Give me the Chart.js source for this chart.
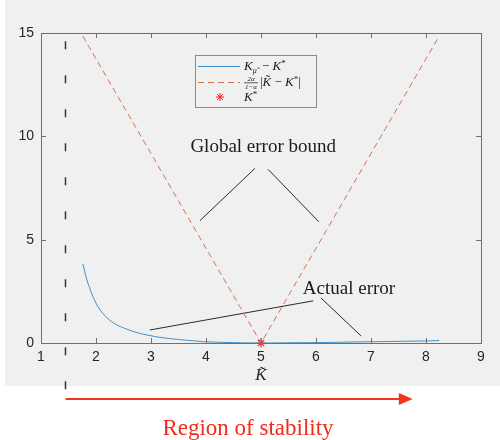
<!DOCTYPE html>
<html lang="en">
<head>
  <meta charset="UTF-8">
  <title>Error bound</title>
  <script src="https://cdn.jsdelivr.net/npm/chart.js"></script>
</head>
<style>
  body { margin: 0; background: #ffffff; }
  .chart-container { width: 500px; height: 440px; }
</style>
<body>
  <div class="chart-container">
    <canvas id="chartCanvas" width="500" height="440"></canvas>
  </div>

  <script>
    // actual error curve
    const errK = [1.76, 1.83, 1.90, 1.97, 2.05, 2.15, 2.25, 2.40, 2.56, 2.75, 2.98, 3.2, 3.5, 3.75, 4.0, 4.5, 5.0, 5.5, 6.0, 6.5, 7.0, 7.5, 8.0, 8.24];
    const errVal = [3.83, 3.1, 2.55, 2.1, 1.7, 1.36, 1.1, 0.85, 0.67, 0.5, 0.36, 0.26, 0.17, 0.11, 0.06, 0.02, 0.0, 0.01, 0.02, 0.04, 0.06, 0.08, 0.10, 0.12];

    // global error bound (V shape)
    const boundK = [1.76, 5, 8.24];
    const boundVal = [14.85, 0, 14.85];

    const kStar = 5;

    // annotation pointer lines [x1, y1, x2, y2]
    const pointerLines = [
      [4.89, 8.45, 3.89, 5.92],
      [5.13, 8.40, 6.05, 5.87],
      [5.95, 2.04, 2.98, 0.63],
      [6.09, 2.18, 6.82, 0.34]
    ];
    const noteTexts = ['Global error bound', 'Actual error'];
    const noteX = [5.04, 5.76];
    const noteY = [9.5, 2.6];

    const xTicks = [1, 2, 3, 4, 5, 6, 7, 8, 9];
    const yTicks = [0, 5, 10, 15];

    const stabilityStart = 1.44;
    const stabilityEnd = 7.76;

    const axisColor = '#262626';

    const datasets = [
      {
        label: 'actual',
        data: errK.map((k, i) => ({ x: k, y: errVal[i] })),
        borderColor: '#3f8fc6',
        borderWidth: 1,
        pointRadius: 0,
        tension: 0.4,
        fill: false,
        clip: false
      },
      {
        label: 'bound',
        data: boundK.map((k, i) => ({ x: k, y: boundVal[i] })),
        borderColor: '#d4704f',
        borderWidth: 1,
        borderDash: [6, 4],
        pointRadius: 0,
        tension: 0,
        fill: false,
        clip: false
      }
    ];
    pointerLines.forEach(l => {
      datasets.push({
        label: 'pointer',
        data: [{ x: l[0], y: l[1] }, { x: l[2], y: l[3] }],
        borderColor: '#2b2b2b',
        borderWidth: 1,
        pointRadius: 0,
        fill: false
      });
    });
    datasets.push({
      label: 'kstar',
      data: [{ x: kStar, y: 0 }],
      showLine: false,
      pointStyle: 'star',
      pointRadius: 4.5,
      borderColor: '#ff1a1a',
      borderWidth: 1.2,
      backgroundColor: '#ff1a1a',
      clip: false
    });

    // figure background, axes box, inward ticks, notes, legend, stability arrow
    const figurePlugin = {
      id: 'figure',
      beforeDraw(chart) {
        const c = chart.ctx;
        c.save();
        c.fillStyle = '#ffffff';
        c.fillRect(0, 0, chart.width, chart.height);
        c.fillStyle = '#f0f0f0';
        c.fillRect(5, 0, chart.width - 5, 386);
        c.restore();
      },
      afterDraw(chart) {
        const c = chart.ctx;
        const a = chart.chartArea;
        const xs = chart.scales.x, ys = chart.scales.y;
        c.save();

        // box
        c.strokeStyle = '#707070';
        c.lineWidth = 1;
        c.strokeRect(a.left + 0.5, a.top + 0.5, a.right - a.left, a.bottom - a.top);

        // inward ticks
        c.beginPath();
        xTicks.forEach(t => {
          const px = Math.round(xs.getPixelForValue(t)) + 0.5;
          c.moveTo(px, a.bottom); c.lineTo(px, a.bottom - 5);
          c.moveTo(px, a.top); c.lineTo(px, a.top + 5);
        });
        yTicks.forEach(t => {
          const py = Math.round(ys.getPixelForValue(t)) + 0.5;
          c.moveTo(a.left, py); c.lineTo(a.left + 5, py);
          c.moveTo(a.right, py); c.lineTo(a.right - 5, py);
        });
        c.stroke();

        // notes
        c.fillStyle = '#1a1a1a';
        c.font = '19px "Liberation Serif"';
        c.textBaseline = 'middle';
        c.textAlign = 'center';
        c.fillText(noteTexts[0], xs.getPixelForValue(noteX[0]), ys.getPixelForValue(noteY[0]));
        c.textAlign = 'left';
        c.fillText(noteTexts[1], xs.getPixelForValue(noteX[1]), ys.getPixelForValue(noteY[1]));

        // legend
        const lx = 195, ly = 55, lw = 121, lh = 52;
        c.fillStyle = '#f0f0f0';
        c.fillRect(lx, ly, lw, lh);
        c.strokeStyle = '#8a8a8a';
        c.strokeRect(lx + 0.5, ly + 0.5, lw, lh);
        const r1 = ly + 11, r2 = ly + 27, r3 = ly + 42;
        c.lineWidth = 1;
        c.strokeStyle = '#3f8fc6';
        c.beginPath(); c.moveTo(198, r1 + 0.5); c.lineTo(240, r1 + 0.5); c.stroke();
        c.strokeStyle = '#d4704f';
        c.setLineDash([6, 4]);
        c.beginPath(); c.moveTo(198, r2 + 0.5); c.lineTo(240, r2 + 0.5); c.stroke();
        c.setLineDash([]);
        // star marker
        c.strokeStyle = '#ff1a1a';
        c.beginPath();
        for (let i = 0; i < 4; i++) {
          const ang = i * Math.PI / 4;
          c.moveTo(220 - 4 * Math.cos(ang), r3 - 4 * Math.sin(ang));
          c.lineTo(220 + 4 * Math.cos(ang), r3 + 4 * Math.sin(ang));
        }
        c.stroke();

        c.fillStyle = '#1a1a1a';
        c.textAlign = 'left';
        c.textBaseline = 'alphabetic';
        // row 1
        let x = 244;
        c.font = 'italic 13px "Liberation Serif"';
        c.fillText('K', x, r1 + 4); x += c.measureText('K').width;
        c.font = 'italic 8px "Liberation Serif"';
        c.fillText('\u03bc\u0303', x, r1 + 7); x += c.measureText('\u03bc\u0303').width + 2;
        c.font = '13px "Liberation Serif"';
        c.fillText(' \u2212 ', x, r1 + 4); x += c.measureText(' \u2212 ').width;
        c.font = 'italic 13px "Liberation Serif"';
        c.fillText('K', x, r1 + 4); x += c.measureText('K').width;
        c.font = '9px "Liberation Serif"';
        c.fillText('*', x, r1);
        // row 2
        x = 244;
        c.font = 'italic 7px "Liberation Serif"';
        c.textAlign = 'center';
        c.fillText('2\u03b1', x + 7, r2 - 1);
        c.fillText('1\u2212\u03b1', x + 7, r2 + 7);
        c.fillRect(x, r2 + 0.5, 14, 0.7);
        c.textAlign = 'left';
        x += 16;
        c.font = '13px "Liberation Serif"';
        c.fillText('|', x, r2 + 4); x += c.measureText('|').width;
        c.font = 'italic 13px "Liberation Serif"';
        c.fillText('K\u0303', x, r2 + 4); x += c.measureText('K').width;
        c.font = '13px "Liberation Serif"';
        c.fillText(' \u2212 ', x, r2 + 4); x += c.measureText(' \u2212 ').width;
        c.font = 'italic 13px "Liberation Serif"';
        c.fillText('K', x, r2 + 4); x += c.measureText('K').width;
        c.font = '9px "Liberation Serif"';
        c.fillText('*', x, r2); x += c.measureText('*').width;
        c.font = '13px "Liberation Serif"';
        c.fillText('|', x, r2 + 4);
        // row 3
        x = 244;
        c.font = 'italic 13px "Liberation Serif"';
        c.fillText('K', x, r3 + 4); x += c.measureText('K').width;
        c.font = '9px "Liberation Serif"';
        c.fillText('*', x, r3);

        // stability region marker
        const sx = Math.round(xs.getPixelForValue(stabilityStart)) + 0.5;
        const ex = xs.getPixelForValue(stabilityEnd);
        const arrowY = 399;
        c.strokeStyle = '#333333';
        c.lineWidth = 1.5;
        c.setLineDash([8, 26]);
        c.beginPath(); c.moveTo(sx, ys.getPixelForValue(14.6)); c.lineTo(sx, arrowY); c.stroke();
        c.setLineDash([]);

        c.strokeStyle = '#f2361c';
        c.fillStyle = '#f2361c';
        c.lineWidth = 2;
        c.beginPath(); c.moveTo(sx, arrowY); c.lineTo(ex - 12, arrowY); c.stroke();
        c.beginPath();
        c.moveTo(ex, arrowY); c.lineTo(ex - 14, arrowY - 6); c.lineTo(ex - 14, arrowY + 6); c.closePath();
        c.fill();

        c.fillStyle = '#f22a1a';
        c.font = '23px "Liberation Serif"';
        c.textAlign = 'center';
        c.textBaseline = 'middle';
        c.fillText('Region of stability', 248, 429);

        c.restore();
      }
    };

    const ctx = document.getElementById('chartCanvas').getContext('2d');
    const chart = new Chart(ctx, {
      type: 'line',
      data: { datasets: datasets },
      options: {
        responsive: false,
        animation: false,
        layout: { padding: { top: 33, right: 19, left: 0, bottom: 52 } },
        plugins: {
          legend: { display: false },
          tooltip: { enabled: false }
        },
        scales: {
          x: {
            type: 'linear',
            min: 1,
            max: 9,
            grid: { display: false, drawTicks: false },
            border: { display: false },
            afterFit: s => { s.height = 45; },
            afterBuildTicks: s => { s.ticks = xTicks.map(v => ({ value: v })); },
            ticks: {
              padding: 6,
              color: axisColor,
              font: { family: 'Liberation Sans', size: 14 }
            },
            title: {
              display: true,
              text: 'K\u0303',
              color: axisColor,
              padding: { top: 6, bottom: 2 },
              font: { family: 'Liberation Serif', size: 17, style: 'italic' }
            }
          },
          y: {
            min: 0,
            max: 15,
            grid: { display: false, drawTicks: false },
            border: { display: false },
            afterFit: s => { s.width = 41; },
            afterBuildTicks: s => { s.ticks = yTicks.map(v => ({ value: v })); },
            ticks: {
              padding: 7,
              color: axisColor,
              font: { family: 'Liberation Sans', size: 14 }
            }
          }
        }
      },
      plugins: [figurePlugin]
    });
  </script>
</body>
</html>
